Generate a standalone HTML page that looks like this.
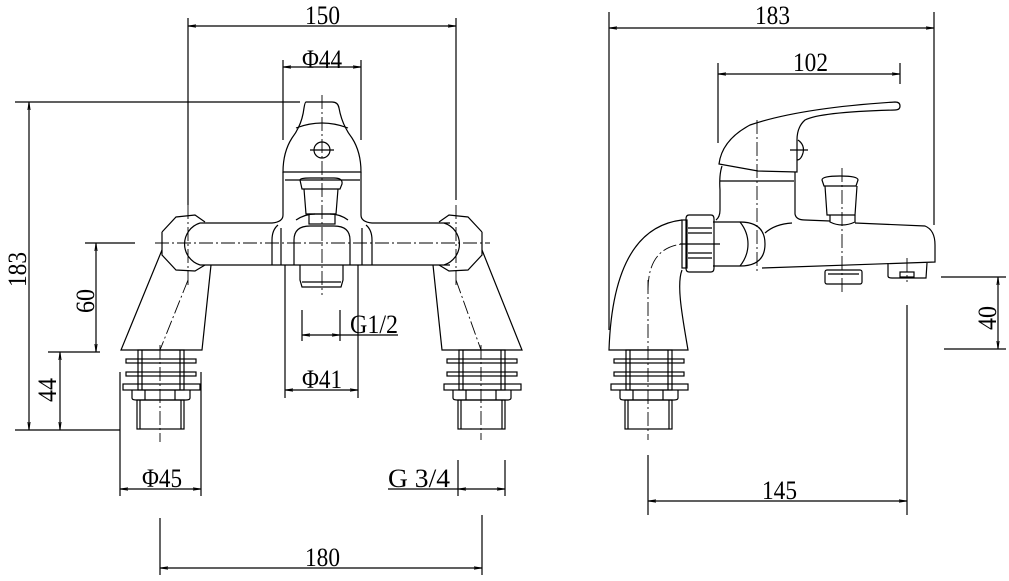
<!DOCTYPE html>
<html><head><meta charset="utf-8"><style>
html,body{margin:0;padding:0;background:#fff}
svg{display:block}
text{font-family:"Liberation Serif",serif;fill:#000}
</style></head><body>
<svg width="1009" height="581" viewBox="0 0 1009 581" xmlns="http://www.w3.org/2000/svg">
<defs>
<marker id="a" viewBox="0 0 10 6" refX="10" refY="3" markerWidth="10" markerHeight="4" orient="auto-start-reverse"><path d="M0,1.5 L10,3 L0,4.5" fill="none" stroke="#000" stroke-width="1"/></marker>
</defs>
<g fill="none" stroke="#000" stroke-width="1.2">
<line x1="188" y1="18" x2="188" y2="205"/><line x1="456" y1="18" x2="456" y2="200"/>
<line x1="188" y1="26" x2="456" y2="26" marker-start="url(#a)" marker-end="url(#a)"/>
<line x1="283" y1="60" x2="283" y2="140"/><line x1="361" y1="60" x2="361" y2="140"/>
<line x1="283" y1="67" x2="361" y2="67" marker-start="url(#a)" marker-end="url(#a)"/>
<line x1="15" y1="102" x2="300" y2="102"/><line x1="15" y1="430" x2="120" y2="430"/>
<line x1="29" y1="102" x2="29" y2="430" marker-start="url(#a)" marker-end="url(#a)"/>
<line x1="85" y1="243" x2="135" y2="243"/>
<line x1="48" y1="352" x2="100" y2="352"/>
<line x1="96" y1="243" x2="96" y2="352" marker-start="url(#a)" marker-end="url(#a)"/>
<line x1="60" y1="352" x2="60" y2="430" marker-start="url(#a)" marker-end="url(#a)"/>
<line x1="302" y1="310" x2="302" y2="341"/><line x1="340" y1="310" x2="340" y2="341"/>
<line x1="302" y1="335" x2="340" y2="335" marker-start="url(#a)" marker-end="url(#a)"/>
<line x1="340" y1="335" x2="398" y2="335"/>
<line x1="285" y1="265" x2="285" y2="398"/><line x1="358" y1="265" x2="358" y2="398"/>
<line x1="285" y1="390" x2="358" y2="390" marker-start="url(#a)" marker-end="url(#a)"/>
<line x1="120" y1="372" x2="120" y2="496"/><line x1="201" y1="372" x2="201" y2="496"/>
<line x1="120" y1="489" x2="201" y2="489" marker-start="url(#a)" marker-end="url(#a)"/>
<line x1="458" y1="460" x2="458" y2="496"/><line x1="505" y1="460" x2="505" y2="496"/>
<line x1="388" y1="489" x2="458" y2="489"/>
<line x1="458" y1="489" x2="505" y2="489" marker-start="url(#a)" marker-end="url(#a)"/>
<line x1="160" y1="518" x2="160" y2="575"/><line x1="482" y1="515" x2="482" y2="575"/>
<line x1="160" y1="568" x2="482" y2="568" marker-start="url(#a)" marker-end="url(#a)"/>
<path d="M306,102 Q306,102 312,102 L332,102 Q338,102 339,108 Q342,125 352,138 Q361,152 361,172 L283,172 Q283,152 292,138 Q302,125 304,108 Q305,102 306,102 Z"/>
<circle cx="322" cy="150" r="8"/>
<path d="M296,128 Q322,118 348,128"/>
<path d="M283,172 L283,215 Q283,222 272,223 L200,223"/>
<path d="M361,172 L361,215 Q361,222 372,223 L450,223"/>
<line x1="285" y1="180" x2="360" y2="180"/>
<path d="M300,180 Q300,178 310,178 L334,178 Q343,178 342,184 L340,189 L302,189 Z"/>
<path d="M304,189 L306,214 L336,214 L338,189"/>
<rect x="309" y="214" width="26" height="10"/>
<path d="M296,220 Q305,214 315,214 M330,214 Q340,214 348,220"/>
<line x1="200" y1="265" x2="450" y2="265"/>
<path d="M294,265 L294,240 Q294,226 310,226 L334,226 Q350,226 350,240 L350,265"/>
<path d="M272,265 L272,240 Q272,230 278,225 M372,265 L372,240 Q372,230 366,225"/>
<path d="M281,265 L281,228 M362,265 L362,228"/>
<path d="M300,265 L300,280 L302,287 L341,287 L343,280 L343,265"/>
<line x1="302" y1="282" x2="341" y2="282"/>
<path d="M162,232 L176,217 L195,215 L205,222 M162,232 L162,255 L176,270 L195,271 L205,265"/>
<path d="M200,223 A22,22 0 0 0 200,265"/>
<path d="M482,232 L468,217 L449,215 L439,222 M482,232 L482,255 L468,270 L449,271 L439,265"/>
<path d="M444,223 A22,22 0 0 1 444,265"/>
<path d="M162,250 L121,350 L202,350 L211,265"/>
<path d="M482,250 L522,350 L442,350 L433,265"/>
<g id="fit">
<rect x="138" y="350" width="46" height="40"/>
<line x1="142" y1="350" x2="142" y2="390"/><line x1="180" y1="350" x2="180" y2="390"/>
<rect x="126" y="359" width="70" height="4"/>
<rect x="126" y="372" width="70" height="4"/>
<rect x="123" y="384" width="77" height="6"/>
<path d="M132,390 L132,398 Q132,400 136,400 L186,400 Q190,400 190,398 L190,390"/>
<line x1="145" y1="390" x2="145" y2="400"/><line x1="175" y1="390" x2="175" y2="400"/>
<rect x="137" y="400" width="47" height="29"/>
<line x1="140" y1="400" x2="140" y2="429"/><line x1="181" y1="400" x2="181" y2="429"/>
</g>
<use href="#fit" x="321"/>
<use href="#fit" x="488"/>
<g stroke-width="0.9" stroke-dasharray="14,3,2,3">
<line x1="322" y1="95" x2="322" y2="295"/>
<line x1="155" y1="243" x2="490" y2="243"/>
<line x1="188" y1="205" x2="188" y2="285"/><line x1="456" y1="205" x2="456" y2="285"/>
<line x1="188" y1="280" x2="160" y2="350"/><line x1="456" y1="280" x2="481" y2="350"/>
<line x1="160" y1="345" x2="160" y2="442"/><line x1="481" y1="345" x2="481" y2="440"/>
</g>
<line x1="310" y1="150" x2="334" y2="150"/>
<line x1="609" y1="12" x2="609" y2="330"/><line x1="934" y1="12" x2="934" y2="225"/>
<line x1="609" y1="28" x2="934" y2="28" marker-start="url(#a)" marker-end="url(#a)"/>
<line x1="718" y1="63" x2="718" y2="143"/><line x1="900" y1="63" x2="900" y2="84"/>
<line x1="718" y1="74" x2="900" y2="74" marker-start="url(#a)" marker-end="url(#a)"/>
<line x1="941" y1="277" x2="1006" y2="277"/><line x1="944" y1="349" x2="1006" y2="349"/>
<line x1="998" y1="277" x2="998" y2="349" marker-start="url(#a)" marker-end="url(#a)"/>
<line x1="907" y1="305" x2="907" y2="515"/><line x1="648" y1="455" x2="648" y2="515"/>
<line x1="648" y1="501" x2="907" y2="501" marker-start="url(#a)" marker-end="url(#a)"/>
<path d="M719,164 Q722,140 750,125 Q800,108 895,102 Q900,102 900,106 Q900,110 895,110 Q820,112 805,120 Q797,127 797,140 L797,172 L758,171 Z"/>
<path d="M798,140 Q805,145 803,153 Q801,160 797,160"/>
<line x1="790" y1="150" x2="808" y2="150"/>
<path d="M722,166 Q719,175 720,190 L720,210 Q720,217 716,220"/>
<line x1="720" y1="181" x2="794" y2="181"/>
<path d="M795,172 L795,214 Q796,220 805,220 L830,221 M855,223 L925,226 Q935,230 935,245 L935,262 L762,268"/>
<path d="M765,233 Q775,224 792,223"/>
<path d="M713,222 L740,222 Q765,222 765,244 Q765,266 740,266 L713,266"/>
<path d="M740,222 Q748,232 748,244 Q748,256 740,266"/>
<path d="M689,215 L711,215 Q714,215 714,219 L714,268 Q714,272 711,272 L689,272 Q686,272 686,268 L686,219 Q686,215 689,215 Z"/>
<line x1="688" y1="228" x2="712" y2="228"/><line x1="688" y1="233" x2="712" y2="233"/>
<line x1="688" y1="253" x2="712" y2="253"/><line x1="688" y1="258" x2="712" y2="258"/>
<rect x="682" y="220" width="5" height="48"/>
<path d="M682,220 C640,225 612,262 609,350 L688,350 C683,320 676,285 682,270"/>
<path d="M822,180 Q822,176 840,176 Q858,176 858,180 L856,186 L824,186 Z"/>
<path d="M825,186 L827,215 L855,215 L857,186"/>
<path d="M830,215 L830,222 Q842,228 855,222 L855,215"/>
<rect x="825" y="270" width="37" height="14" rx="2"/>
<line x1="828" y1="274" x2="859" y2="274"/>
<path d="M888,263 L888,276 Q888,278 892,278 L926,278 L927,263"/>
<rect x="900" y="272" width="14" height="5"/>
<g stroke-width="0.9" stroke-dasharray="14,3,2,3">
<line x1="757" y1="120" x2="757" y2="272"/>
<line x1="842" y1="168" x2="842" y2="292"/>
<line x1="648" y1="280" x2="648" y2="440"/>
<path d="M648,290 Q648,248 682,244"/>
<line x1="907" y1="258" x2="907" y2="282"/>
</g>
<line x1="680" y1="244" x2="720" y2="244"/>
</g>
<g font-size="26" lengthAdjust="spacingAndGlyphs">
<text x="305" y="24" textLength="35" lengthAdjust="spacingAndGlyphs">150</text>
<text x="302" y="68" textLength="40" lengthAdjust="spacingAndGlyphs">Φ44</text>
<text x="350" y="333" textLength="48" lengthAdjust="spacingAndGlyphs">G1/2</text>
<text x="302" y="388" textLength="40" lengthAdjust="spacingAndGlyphs">Φ41</text>
<text x="142" y="487" textLength="40" lengthAdjust="spacingAndGlyphs">Φ45</text>
<text x="388" y="487" textLength="62" lengthAdjust="spacingAndGlyphs">G 3/4</text>
<text x="305" y="566" textLength="35" lengthAdjust="spacingAndGlyphs">180</text>
<text transform="translate(26,287) rotate(-90)" textLength="35" lengthAdjust="spacingAndGlyphs">183</text>
<text transform="translate(94,313) rotate(-90)" textLength="24" lengthAdjust="spacingAndGlyphs">60</text>
<text transform="translate(56,402) rotate(-90)" textLength="24" lengthAdjust="spacingAndGlyphs">44</text>
<text x="755" y="24" textLength="35" lengthAdjust="spacingAndGlyphs">183</text>
<text x="793" y="71" textLength="35" lengthAdjust="spacingAndGlyphs">102</text>
<text x="762" y="499" textLength="35" lengthAdjust="spacingAndGlyphs">145</text>
<text transform="translate(996,330) rotate(-90)" textLength="24" lengthAdjust="spacingAndGlyphs">40</text>
</g>
</svg>
</body></html>
